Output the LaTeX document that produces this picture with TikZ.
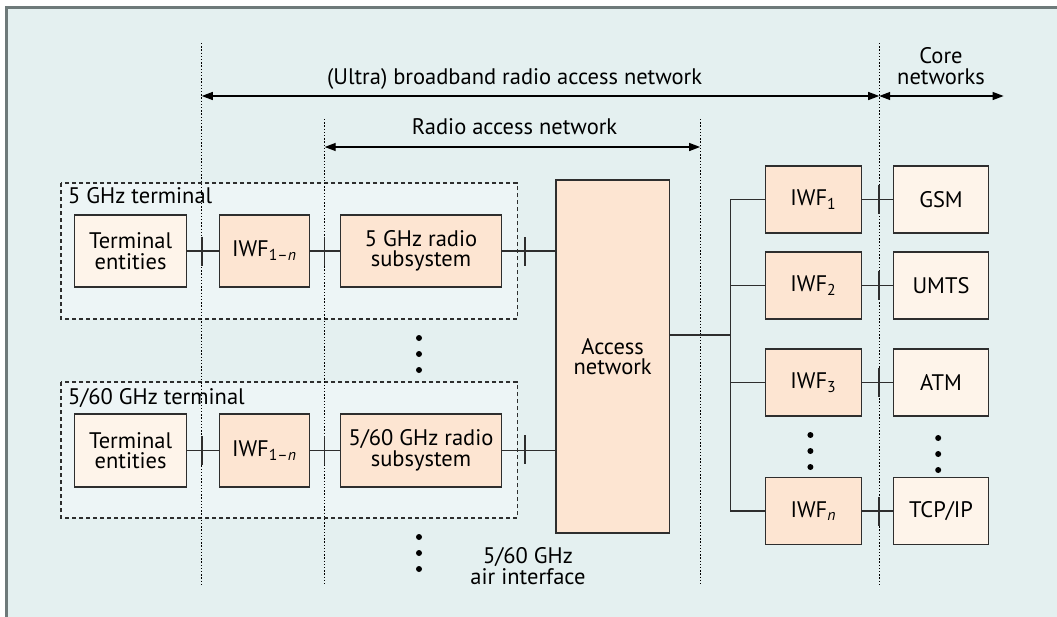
\documentclass[tikz,border=0pt]{standalone}
\usepackage{fontspec}
\setmainfont{PT Sans}
\usetikzlibrary{arrows.meta}
\definecolor{bgteal}{HTML}{E4F0F0}
\definecolor{termbg}{HTML}{EDF5F6}
\definecolor{peach}{HTML}{FDE5D2}
\definecolor{cream}{HTML}{FEF4EA}
\definecolor{framegray}{HTML}{6E7A7A}
\definecolor{ink}{HTML}{2E2E2E}
\newcommand\iwfsub[1]{\textsubscript{#1}}

\begin{document}
\begin{tikzpicture}[x=1pt,y=-1pt,
  font=\fontsize{22.5}{20.5}\selectfont,
  box/.style={draw=ink, line width=1.3pt, align=center, inner sep=0pt, text=black},
  peachbox/.style={box, fill=peach},
  creambox/.style={box, fill=cream},
  termgroup/.style={draw=ink, line width=1.2pt, dash pattern=on 4pt off 3pt, fill=termbg},
  boundary/.style={draw=black, line width=1.2pt, dash pattern=on 1.4pt off 1.8pt},
  link/.style={draw=ink, line width=1.3pt},
  tick/.style={draw=ink, line width=1.5pt},
  span/.style={draw=black, line width=1.3pt, {Triangle[length=11pt,width=8pt]}-{Triangle[length=11pt,width=8pt]}},
  dot/.style={circle, fill=black, inner sep=0pt, minimum size=6pt},
  lbl/.style={text=black, inner sep=0pt, anchor=base}
]
\useasboundingbox (0,0) rectangle (1057,616);

% panel background and its frame edges
\fill[bgteal] (6,7) rectangle (1065,625);
\draw[framegray, line width=2.5pt] (6.5,625) -- (6.5,7.5) -- (1065,7.5);

% terminal groups
\draw[termgroup] (61,183) rectangle (517.2,319);
\draw[termgroup] (61,382) rectangle (517.2,518);
\node[lbl, anchor=base west] (t5lbl) at (68,203) {5 GHz terminal};
\node[lbl, anchor=base west] (t60lbl) at (68,404) {5/60 GHz terminal};

% interface boundaries
\coordinate (b1top) at (201.8,43);   \coordinate (b1bot) at (201.8,585);
\coordinate (b2top) at (324.7,119);  \coordinate (b2bot) at (324.7,585);
\coordinate (b3top) at (700.1,119);  \coordinate (b3bot) at (700.1,585);
\coordinate (b4top) at (879.2,43);   \coordinate (b4bot) at (879.2,585);
\draw[boundary] (b1top) -- (b1bot);
\draw[boundary] (b2top) -- (b2bot);
\draw[boundary] (b3top) -- (b3bot);
\draw[boundary] (b4top) -- (b4bot);

% span arrows
\coordinate (bbL) at (201.8,96);  \coordinate (bbR) at (879.2,96);
\coordinate (coreR) at (1003.6,96);
\coordinate (ranL) at (324.7,147); \coordinate (ranR) at (700.1,147);
\draw[span] (bbL) -- (bbR);
\draw[span] (bbR) -- (coreR);
\draw[span] (ranL) -- (ranR);
\node[lbl] (bblbl) at (514.6,84) {(Ultra) broadband radio access network};
\node[lbl] (ranlbl) at (514.5,134) {Radio access network};
\node[lbl, align=center, anchor=base] (corelbl) at (941,84) {Core\\networks};

% 5 GHz terminal chain
\node[creambox, minimum width=112pt, minimum height=72pt] (te1) at (130.65,251) {Terminal\\entities};
\node[peachbox, minimum width=90pt, minimum height=72pt] (iw1) at (264.3,251) {IWF\iwfsub{1–\textit{n}}};
\node[peachbox, minimum width=161.5pt, minimum height=72pt] (rs1) at (421,251) {5 GHz radio\\subsystem};

% 5/60 GHz terminal chain
\node[creambox, minimum width=112pt, minimum height=73pt] (te2) at (130.65,450.5) {Terminal\\entities};
\node[peachbox, minimum width=90pt, minimum height=73pt] (iw2) at (264.3,450.5) {IWF\iwfsub{1–\textit{n}}};
\node[peachbox, minimum width=161.5pt, minimum height=73pt] (rs2) at (421,450.5) {5/60 GHz radio\\subsystem};

% access network
\node[peachbox, minimum width=113.3pt, minimum height=353pt] (acc) at (612.65,356.5) {Access\\network};

% interworking functions and core networks
\node[peachbox, minimum width=96.2pt, minimum height=67pt] (f1) at (813.3,199.5) {IWF\iwfsub{1}};
\node[peachbox, minimum width=96.2pt, minimum height=67pt] (f2) at (813.3,285.5) {IWF\iwfsub{2}};
\node[peachbox, minimum width=96.2pt, minimum height=67pt] (f3) at (813.3,382.5) {IWF\iwfsub{3}};
\node[peachbox, minimum width=96.2pt, minimum height=67pt] (fn) at (813.3,511) {IWF\iwfsub{\textit{n}}};
\node[creambox, minimum width=95.5pt, minimum height=67pt] (gsm) at (941,199.5) {GSM};
\node[creambox, minimum width=95.5pt, minimum height=67pt] (umts) at (941,285.5) {UMTS};
\node[creambox, minimum width=95.5pt, minimum height=67pt] (atm) at (941,382.5) {ATM};
\node[creambox, minimum width=95.5pt, minimum height=67pt] (tcp) at (941,511) {TCP/IP};

% terminal links
\draw[link] (te1) -- (iw1);
\draw[link] (iw1) -- (rs1);
\draw[link] (rs1.east) -- (rs1.east -| acc.west);
\draw[link] (te2) -- (iw2);
\draw[link] (iw2) -- (rs2);
\draw[link] (rs2.east) -- (rs2.east -| acc.west);

% bus towards the interworking functions
\coordinate (accout) at (669.3,335);
\coordinate (busmid) at (730.3,335);
\coordinate (bustop) at (730.3,199.5);
\coordinate (busbot) at (730.3,511);
\draw[link] (accout) -- (busmid);
\draw[link] (bustop) -- (busbot);
\draw[link] (bustop) -- (f1.west);
\draw[link] (bustop |- f2.west) -- (f2.west);
\draw[link] (bustop |- f3.west) -- (f3.west);
\draw[link] (busbot) -- (fn.west);
\draw[link] (f1) -- (gsm);
\draw[link] (f2) -- (umts);
\draw[link] (f3) -- (atm);
\draw[link] (fn) -- (tcp);

% interface ticks
\foreach \x/\y in {201.8/251, 324.7/251, 524.8/251.5, 201.8/450.5, 324.7/450.5, 524.8/449.5,
                   879.2/199.5, 879.2/285.5, 879.2/382.5, 879.2/511}
  \draw[tick] (\x,\y-14.5) -- (\x,\y+14.5);

% ellipsis dots
\foreach \y in {338,354,370,537,553,569}
  \node[dot] at (419,\y) {};
\foreach \y in {435,451,467}
  \node[dot] at (810.4,\y) {};
\foreach \y in {438,454,470}
  \node[dot] at (938.2,\y) {};

% air interface label
\node[lbl, align=center] (airlbl) at (528,584) {5/60 GHz\\air interface};
\end{tikzpicture}
\end{document}
